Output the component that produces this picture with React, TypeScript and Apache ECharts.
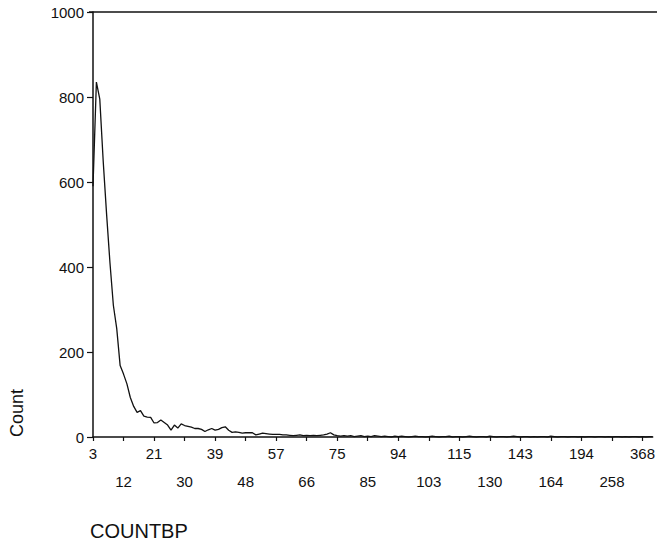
import React, { useEffect, useRef } from "react";
import * as echarts from "echarts";

// COUNTBP category values (distinct observed values)
const countbp: number[] = [
  3, 4, 5, 6, 7, 8, 9, 10, 11, 12, 13, 14, 15, 16, 17, 18, 19, 20, 21, 22,
  23, 24, 25, 26, 27, 28, 29, 30, 31, 32, 33, 34, 35, 36, 37, 38, 39, 40, 41, 42,
  43, 44, 45, 46, 47, 48, 49, 50, 51, 52, 53, 54, 55, 56, 57, 58, 59, 60, 61, 62,
  63, 64, 65, 66, 67, 68, 69, 70, 71, 72, 73, 74, 75,
  76, 77, 78, 79, 80, 81, 82, 84, 85,
  86, 87, 88, 89, 90, 91, 92, 93, 94,
  95, 96, 97, 98, 99, 100, 101, 102, 103,
  104, 105, 106, 108, 109, 111, 112, 114, 115,
  117, 118, 120, 122, 123, 125, 127, 128, 130,
  131, 132, 134, 135, 137, 138, 140, 141, 143,
  146, 148, 150, 152, 155, 157, 159, 162, 164,
  167, 170, 173, 176, 179, 183, 186, 190, 194,
  199, 205, 211, 218, 225, 232, 240, 249, 258,
  265, 276, 288, 299, 311, 326, 339, 352, 368,
  389, 421, 467,
];

// Count per COUNTBP value
const counts: number[] = [
  590, 835, 795, 650, 525, 410, 310, 255, 168, 148,
  125, 93, 72, 58, 62, 49, 47, 46, 33, 34,
  40, 34, 28, 16, 28, 21, 31, 27, 25, 23,
  20, 20, 18, 13, 17, 20, 16, 18, 22, 24,
  16, 11, 12, 11, 9, 10, 10, 10, 5, 7,
  9, 8, 7, 6, 6, 6, 5, 5, 4, 3,
  4, 5, 3, 4, 3, 4, 3, 4, 5, 7,
  10, 5, 3, 2, 3, 2, 3, 1, 2, 3,
  1, 2, 1, 3, 2, 1, 2, 1, 0, 2,
  1, 2, 1, 0, 1, 2, 1, 1, 0, 1,
  2, 1, 0, 1, 1, 2, 0, 1, 1, 0,
  1, 2, 1, 0, 1, 1, 0, 2, 1, 0,
  1, 1, 0, 1, 2, 1, 0, 1, 1, 0,
  1, 0, 1, 1, 0, 2, 1, 0, 1, 1,
  0, 1, 1, 0, 1, 0, 1, 1, 0, 1,
  1, 0, 1, 0, 1, 1, 0, 1, 0, 1,
  1, 0, 1, 0, 1, 1,
];

const yMin = 0;
const yMax = 1000;
const yStep = 200;
const yTitle = "Count";
const xTitle = "COUNTBP";

const INK = "#111";
const FONT = "'Liberation Sans', Arial, Helvetica, sans-serif";

export default function App() {
  const ref = useRef<HTMLDivElement>(null);
  useEffect(() => {
    if (!ref.current) return;
    const chart = echarts.init(ref.current, null, { renderer: "svg" });
    chart.setOption({
      animation: false,
      backgroundColor: "#ffffff",
      textStyle: { fontFamily: FONT },
      grid: { left: 93, right: 3, top: 12, bottom: 107, containLabel: false },
      xAxis: {
        type: "category",
        data: countbp.map(String),
        boundaryGap: false,
        axisLine: { show: true, lineStyle: { color: INK, width: 1.5 } },
        axisTick: { show: true, interval: 8, length: 4, lineStyle: { color: INK, width: 1.2 } },
        axisLabel: {
          interval: 8,
          fontSize: 15,
          color: INK,
          fontFamily: FONT,
          margin: 2,
          lineHeight: 28,
          formatter: (v: string, i: number) => (i % 18 === 0 ? v : "\n" + v),
        },
        splitLine: { show: false },
      },
      yAxis: {
        type: "value",
        min: yMin,
        max: yMax,
        interval: yStep,
        axisLine: { show: true, lineStyle: { color: INK, width: 1.5 } },
        axisTick: { show: true, length: 6, lineStyle: { color: INK, width: 1.2 } },
        axisLabel: {
          fontSize: 15,
          color: INK,
          fontFamily: FONT,
          margin: 9,
          formatter: (v: number) => String(v),
        },
        splitLine: { show: false },
      },
      series: [
        {
          type: "line",
          data: counts,
          symbol: "none",
          showSymbol: false,
          lineStyle: { color: INK, width: 1.3 },
        },
      ],
      graphic: [
        {
          type: "line",
          shape: { x1: 89, y1: 12, x2: 657, y2: 12 },
          style: { stroke: INK, lineWidth: 1.5 },
        },
        {
          type: "text",
          x: 17,
          y: 413,
          rotation: Math.PI / 2,
          style: {
            text: yTitle,
            fontSize: 18,
            fontFamily: FONT,
            fill: INK,
            align: "center",
            verticalAlign: "middle",
          },
        },
        {
          type: "text",
          x: 90,
          y: 531,
          style: {
            text: xTitle,
            fontSize: 20,
            fontFamily: FONT,
            fill: INK,
            align: "left",
            verticalAlign: "middle",
          },
        },
      ],
    });
    return () => chart.dispose();
  }, []);
  return (
    <div
      ref={ref}
      style={{ position: "fixed", left: 0, top: 0, width: 658, height: 544, background: "#fff" }}
    />
  );
}
